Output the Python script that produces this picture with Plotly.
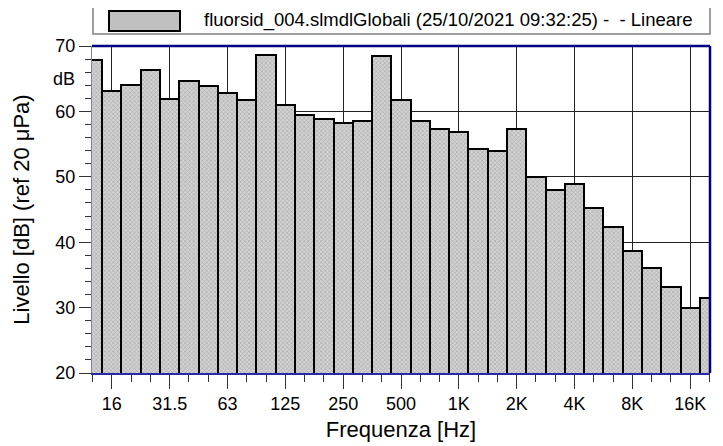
import plotly.graph_objects as go

# 1/3-octave band centres (Hz) from 12.5 Hz to 20 kHz
bands = ["12.5", "16", "20", "25", "31.5", "40", "50", "63", "80", "100", "125", "160",
         "200", "250", "315", "400", "500", "630", "800", "1K", "1.25K", "1.6K", "2K",
         "2.5K", "3.15K", "4K", "5K", "6.3K", "8K", "10K", "12.5K", "16K", "20K"]
levels = [67.9, 63.1, 64.1, 66.3, 61.9, 64.7, 63.9, 62.8, 61.7, 68.6, 61.0, 59.4,
          58.8, 58.2, 58.6, 68.4, 61.7, 58.6, 57.3, 56.9, 54.3, 54.0, 57.3,
          50.0, 48.0, 48.9, 45.3, 42.4, 38.7, 36.0, 33.2, 30.0, 31.5]
tick_labels = ["16", "31.5", "63", "125", "250", "500", "1K", "2K", "4K", "8K", "16K"]
y_ticks = [20, 30, 40, 50, 60, 70]
legend_text = "fluorsid_004.slmdlGlobali (25/10/2021 09:32:25) - \u00a0- Lineare"

idx = list(range(len(bands)))
major_idx = [bands.index(t) for t in tick_labels]

FONT = "Liberation Sans, Arial, sans-serif"

fig = go.Figure()
fig.add_trace(go.Bar(
    x=idx, y=levels, base=0, width=1.0,
    marker=dict(
        color="#c0c0c0",
        line=dict(color="black", width=2),
        pattern=dict(shape="x", fgcolor="#888888", bgcolor="#d2d2d2", size=3, solidity=0.4),
    ),
    showlegend=False,
))

# page body has an 8 px margin, so the figure is 8 px smaller and margins shifted
fig.update_layout(
    width=715, height=438,
    margin=dict(l=84, r=13, t=38, b=73, autoexpand=False),
    paper_bgcolor="white", plot_bgcolor="white",
    bargap=0,
    font=dict(family=FONT, color="black", size=18),
    xaxis=dict(
        range=[-0.03, len(bands) - 0.97],
        automargin=False,
        tickmode="array", tickvals=major_idx, ticktext=tick_labels,
        ticks="outside", ticklen=14, tickwidth=1, tickcolor="#333333",
        tickfont=dict(size=18),
        showgrid=True, gridcolor="#222222", gridwidth=1,
        showline=True, linecolor="#2a2aa8", linewidth=1.5,
        zeroline=False,
        minor=dict(tickmode="array", tickvals=idx, ticks="outside", ticklen=7,
                   tickcolor="#333333", showgrid=False),
        title=dict(text="Frequenza [Hz]", font=dict(size=22), standoff=8),
    ),
    yaxis=dict(
        range=[20, 70],
        automargin=False,
        tickmode="array", tickvals=y_ticks, ticktext=[str(v) for v in y_ticks],
        ticks="outside", ticklen=12, tickwidth=1, tickcolor="#333333",
        tickfont=dict(size=18),
        showgrid=True, gridcolor="#222222", gridwidth=1,
        showline=True, linecolor="#8080c0", linewidth=1,
        zeroline=False,
        minor=dict(dtick=2, tick0=20, ticks="outside", ticklen=6,
                   tickcolor="#333333", showgrid=False),
        title=dict(text="Livello [dB] (ref 20 μPa)", font=dict(size=22), standoff=19),
    ),
    shapes=[
        # top and right frame (navy)
        dict(type="line", xref="paper", yref="paper", x0=0, x1=1, y0=1, y1=1,
             line=dict(color="#000080", width=2.5), layer="above"),
        dict(type="line", xref="paper", yref="paper", x0=1, x1=1, y0=0, y1=1,
             line=dict(color="#000080", width=2.5), layer="above"),
        # legend box
        dict(type="rect", xref="paper", yref="paper", x0=0.0016, x1=1.0, y0=1.037, y1=1.119,
             line=dict(color="#808080", width=1.5), fillcolor="white"),
        # legend swatch
        dict(type="rect", xref="paper", yref="paper", x0=0.0275, x1=0.1424, y0=1.046, y1=1.107,
             line=dict(color="black", width=2), fillcolor="#c0c0c0"),
    ],
    annotations=[
        dict(text="dB", xref="paper", yref="y", x=0, y=65, xanchor="right", yanchor="middle",
             xshift=-15, showarrow=False, font=dict(size=18)),
        dict(text=legend_text, xref="paper", yref="paper", x=0.1780, y=1.078,
             xanchor="left", yanchor="middle", showarrow=False, font=dict(size=18.5)),
    ],
)

fig.write_html("out.html")
